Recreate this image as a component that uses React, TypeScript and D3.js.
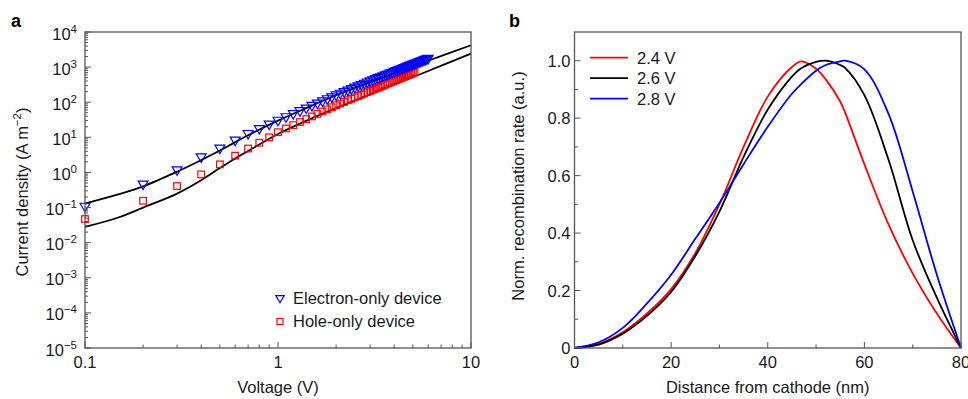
import React from 'react';
import * as d3 from 'd3';

// panel a: J-V data (voltage in V, current density in A m^-2)
const voltage = [
  0.1, 0.2, 0.3, 0.4, 0.5, 0.6, 0.7, 0.8, 0.9, 1.0,
  1.1, 1.2, 1.3, 1.4, 1.5, 1.6, 1.7, 1.8, 1.9, 2.0,
  2.1, 2.2, 2.3, 2.4, 2.5, 2.6, 2.7, 2.8, 2.9, 3.0,
  3.1, 3.2, 3.3, 3.4, 3.5, 3.6, 3.7, 3.8, 3.9, 4.0,
  4.1, 4.2, 4.3, 4.4, 4.5, 4.6, 4.7, 4.8, 4.9, 5.0,
  5.1, 5.2, 5.3, 5.4, 5.5, 5.6, 5.7, 5.8, 5.9, 6.0,
];
const electronOnly = [
  0.11, 0.47, 1.2, 2.8, 5.0, 8.4, 13, 18, 24, 31,
  39, 48, 58, 69, 82, 95, 110, 127, 144, 163,
  182, 202, 224, 247, 271, 297, 323, 351, 380, 411,
  441, 472, 505, 537, 572, 607, 644, 682, 721, 760,
  802, 845, 889, 933, 982, 1028, 1077, 1127, 1178, 1230,
  1282, 1334, 1390, 1442, 1500, 1556, 1614, 1675, 1738, 1800,
];
const holeOnly = [
  0.047, 0.156, 0.41, 0.88, 1.7, 3.0, 4.8, 7.0, 10.0, 14.0,
  17.9, 22.3, 27.3, 33.0, 39.4, 46.4, 54.2, 62.7, 72.0, 82.0,
  91.8, 102, 114, 125, 138, 151, 164, 179, 194, 210,
  227, 244, 262, 281, 301, 321, 342, 364, 386, 410,
  434, 459, 484, 511, 538, 566, 595, 625, 656, 687,
  719,
];
const fitVoltage = [0.1, 0.15, 0.2, 0.3, 0.4, 0.5, 0.6, 0.7, 1, 1.5, 2, 3, 4, 6, 10];
const electronFit = [0.13, 0.24, 0.4, 1.05, 2.25, 4.2, 7.3, 11.5, 30, 80, 158, 380, 680, 1520, 4200];
const holeFit = [0.028, 0.053, 0.1, 0.25, 0.6, 1.33, 2.5, 4.1, 12.5, 35, 68, 166, 315, 774, 2410];

// panel b: normalized recombination profiles
const distance = [0, 5, 10, 15, 20, 25, 30, 35, 40, 45, 47, 50, 52, 55, 56, 60, 65, 70, 75, 80];
const rate24 = [0, 0.015, 0.055, 0.12, 0.205, 0.33, 0.5, 0.7, 0.875, 0.978, 0.998, 0.972, 0.935, 0.858, 0.82, 0.64, 0.43, 0.26, 0.12, 0];
const rate26 = [0, 0.012, 0.05, 0.112, 0.195, 0.32, 0.475, 0.665, 0.83, 0.945, 0.975, 0.996, 1.0, 0.985, 0.975, 0.88, 0.655, 0.375, 0.175, 0];
const rate28 = [0, 0.02, 0.07, 0.155, 0.255, 0.38, 0.505, 0.64, 0.77, 0.885, 0.92, 0.965, 0.985, 0.998, 1.0, 0.97, 0.815, 0.545, 0.255, 0];

const curves = [
  { label: '2.4 V', values: rate24, color: '#ff0000' },
  { label: '2.6 V', values: rate26, color: '#000000' },
  { label: '2.8 V', values: rate28, color: '#0000ff' },
];

const yDecades = [-5, -4, -3, -2, -1, 0, 1, 2, 3, 4];
const xLogTicks = [0.1, 1, 10];
const bYTicks = [0, 0.2, 0.4, 0.6, 0.8, 1.0];
const bXTicks = [0, 20, 40, 60, 80];

const font = 'Liberation Sans, Arial, Helvetica, sans-serif';
const axisColor = '#555';
const textColor = '#1a1a1a';
const fs = 16.5;

const A = { left: 85, right: 471, top: 32, bottom: 348 };
const B = { left: 574.5, right: 961, top: 32, bottom: 348 };

export default function App() {
  const xa = d3.scaleLog().domain([0.1, 10]).range([A.left, A.right]);
  const ya = d3.scaleLog().domain([1e-5, 1e4]).range([A.bottom, A.top]);
  const xb = d3.scaleLinear().domain([0, 80]).range([B.left, B.right]);
  const yb = d3.scaleLinear().domain([0, 1.1]).range([B.bottom, B.top]);

  const fitLine = d3
    .line<[number, number]>()
    .x((d) => xa(d[0]))
    .y((d) => ya(d[1]))
    .curve(d3.curveCatmullRom.alpha(0.5));
  const rateLine = d3
    .line<[number, number]>()
    .x((d) => xb(d[0]))
    .y((d) => yb(d[1]))
    .curve(d3.curveCatmullRom.alpha(0.5));

  const tri = d3.symbol().type(d3.symbolTriangle).size(42)() as string;

  // minor ticks
  const yMinor: number[] = [];
  yDecades.slice(0, -1).forEach((e) => {
    for (let m = 2; m <= 9; m++) yMinor.push(m * Math.pow(10, e));
  });
  const xMinor: number[] = [];
  [-1, 0].forEach((e) => {
    for (let m = 2; m <= 9; m++) xMinor.push(m * Math.pow(10, e));
  });
  const bYMinor = [0.1, 0.3, 0.5, 0.7, 0.9];
  const bXMinor = [10, 30, 50, 70];

  return (
    <svg
      width={968}
      height={399}
      style={{ position: 'absolute', left: 0, top: 0, background: '#fff' }}
      fontFamily={font}
    >
      {/* ---------- panel a ---------- */}
      <text x={11} y={27} fontSize={18} fontWeight="bold" fill="#000">a</text>

      <g fill="none" stroke="#000" strokeWidth={1.8}>
        <path d={fitLine(fitVoltage.map((v, i) => [v, electronFit[i]]) as [number, number][]) || ''} />
        <path d={fitLine(fitVoltage.map((v, i) => [v, holeFit[i]]) as [number, number][]) || ''} />
      </g>

      <g fill="none" stroke="#ff0000" strokeWidth={1.2}>
        {holeOnly.map((j, i) => (
          <rect key={i} x={xa(voltage[i]) - 3.3} y={ya(j) - 3.3} width={6.6} height={6.6} />
        ))}
      </g>
      <g fill="none" stroke="#0000ff" strokeWidth={1.2}>
        {electronOnly.map((j, i) => (
          <path key={i} d={tri} transform={`translate(${xa(voltage[i])},${ya(j)}) rotate(180)`} />
        ))}
      </g>

      {/* frame */}
      <rect x={A.left} y={A.top} width={A.right - A.left} height={A.bottom - A.top}
        fill="none" stroke={axisColor} strokeWidth={1.3} />

      {/* ticks */}
      <g stroke={axisColor} strokeWidth={1}>
        {yDecades.map((e) => (
          <line key={e} x1={A.left} x2={A.left + 6} y1={ya(Math.pow(10, e))} y2={ya(Math.pow(10, e))} />
        ))}
        {yMinor.map((v, i) => (
          <line key={i} x1={A.left} x2={A.left + 3} y1={ya(v)} y2={ya(v)} />
        ))}
        {xLogTicks.map((v) => (
          <line key={v} x1={xa(v)} x2={xa(v)} y1={A.bottom} y2={A.bottom - 6} />
        ))}
        {xMinor.map((v, i) => (
          <line key={i} x1={xa(v)} x2={xa(v)} y1={A.bottom} y2={A.bottom - 3.5} />
        ))}
      </g>
      <g fill={textColor} fontSize={fs}>
        {yDecades.map((e) => (
          <text key={e} x={A.left - 8} y={ya(Math.pow(10, e)) + 7.5} textAnchor="end">
            10<tspan dy={-7} fontSize={11.5}>{e < 0 ? `\u2212${-e}` : e}</tspan>
          </text>
        ))}
        {xLogTicks.map((v) => (
          <text key={v} x={xa(v)} y={368} textAnchor="middle">{v}</text>
        ))}
        <text x={(A.left + A.right) / 2} y={393} textAnchor="middle">Voltage (V)</text>
        <text transform="translate(28,192) rotate(-90)" textAnchor="middle">
          Current density (A m<tspan dy={-7} fontSize={11.5}>{'\u22122'}</tspan><tspan dy={7}>)</tspan>
        </text>
      </g>

      {/* legend a */}
      <g>
        <path d={d3.symbol().type(d3.symbolTriangle).size(30)() as string}
          transform="translate(280,298) rotate(180)" fill="none" stroke="#0000ff" strokeWidth={1.2} />
        <rect x={277} y={318.5} width={6} height={6} fill="none" stroke="#ff0000" strokeWidth={1.2} />
        <text x={293} y={304} fontSize={fs} fill={textColor}>Electron-only device</text>
        <text x={293} y={327} fontSize={fs} fill={textColor}>Hole-only device</text>
      </g>

      {/* ---------- panel b ---------- */}
      <text x={509} y={27} fontSize={18} fontWeight="bold" fill="#000">b</text>

      <g fill="none" strokeWidth={1.8}>
        {curves.map((c) => (
          <path key={c.label} stroke={c.color}
            d={rateLine(distance.map((x, i) => [x, c.values[i]]) as [number, number][]) || ''} />
        ))}
      </g>

      <rect x={B.left} y={B.top} width={B.right - B.left} height={B.bottom - B.top}
        fill="none" stroke={axisColor} strokeWidth={1.3} />
      <g stroke={axisColor} strokeWidth={1}>
        {bYTicks.map((v) => (
          <line key={v} x1={B.left} x2={B.left + 6} y1={yb(v)} y2={yb(v)} />
        ))}
        {bYMinor.map((v) => (
          <line key={v} x1={B.left} x2={B.left + 3.5} y1={yb(v)} y2={yb(v)} />
        ))}
        {bXTicks.map((v) => (
          <line key={v} x1={xb(v)} x2={xb(v)} y1={B.bottom} y2={B.bottom - 6} />
        ))}
        {bXMinor.map((v) => (
          <line key={v} x1={xb(v)} x2={xb(v)} y1={B.bottom} y2={B.bottom - 3.5} />
        ))}
      </g>
      <g fill={textColor} fontSize={fs}>
        {bYTicks.map((v) => (
          <text key={v} x={B.left - 4} y={yb(v) + 6} textAnchor="end">{v === 0 ? '0' : v.toFixed(1)}</text>
        ))}
        {bXTicks.map((v) => (
          <text key={v} x={xb(v)} y={368} textAnchor="middle">{v}</text>
        ))}
        <text x={(B.left + B.right) / 2} y={393} textAnchor="middle">Distance from cathode (nm)</text>
        <text transform="translate(524,186) rotate(-90)" textAnchor="middle">Norm. recombination rate (a.u.)</text>
      </g>

      {/* legend b */}
      <g>
        {curves.map((c, i) => (
          <g key={c.label}>
            <line x1={590} x2={628} y1={57.7 + i * 20.5} y2={57.7 + i * 20.5} stroke={c.color} strokeWidth={1.8} />
            <text x={637} y={63.5 + i * 20.5} fontSize={fs} fill={textColor}>{c.label}</text>
          </g>
        ))}
      </g>
    </svg>
  );
}
